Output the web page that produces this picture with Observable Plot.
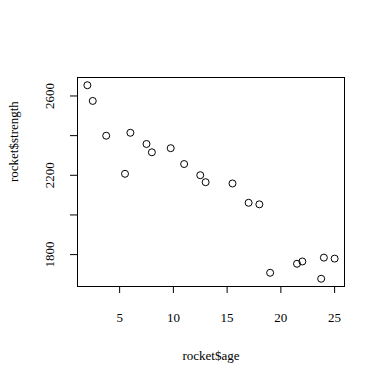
<!DOCTYPE html>
<html><head><meta charset="utf-8">
<script src="https://cdn.jsdelivr.net/npm/d3@7"></script>
<script src="https://cdn.jsdelivr.net/npm/@observablehq/plot@0.6"></script>
<style>body{margin:0;background:#fff} svg, svg text{font-family:"Liberation Serif", "DejaVu Serif", serif !important;}</style>
</head><body><div id="chart"></div>
<script>
const age = [15.50, 23.75, 8.00, 17.00, 5.50, 19.00, 24.00, 2.50, 7.50, 11.00, 13.00, 3.75, 25.00, 9.75, 22.00, 18.00, 6.00, 12.50, 2.00, 21.50];
const strength = [2158.70, 1678.15, 2316.00, 2061.30, 2207.50, 1708.30, 1784.70, 2575.00, 2357.90, 2256.70, 2165.20, 2399.55, 1779.80, 2336.75, 1765.30, 2053.50, 2414.40, 2200.50, 2654.20, 1753.70];
const xTicks = [5, 10, 15, 20, 25];
const yTicks = [1800, 2000, 2200, 2400, 2600];
const yLabeled = [1800, 2200, 2600];
const xLabel = "rocket$age";
const yLabel = "rocket$strength";

const data = age.map((a, i) => ({age: a, strength: strength[i]}));
const chart = Plot.plot({
  width: 384, height: 383,
  marginLeft: 77, marginRight: 40, marginTop: 77, marginBottom: 97,
  style: {fontFamily: "'Liberation Serif', serif", fontSize: "13px", color: "#000", background: "#fff"},
  x: {domain: [1.08, 25.92]},
  y: {domain: [1639.1, 2693.2]},
  marks: [
    Plot.frame({stroke: "#000", strokeWidth: 1}),
    Plot.axisX({ticks: xTicks, tickSize: 7, tickPadding: 19, label: null, fontSize: 13}),
    Plot.axisY({ticks: yTicks, tickSize: 7, tickPadding: 17, tickRotate: -90, label: null, fontSize: 13,
      tickFormat: d => yLabeled.includes(d) ? String(d) : ""}),
    Plot.text([xLabel], {frameAnchor: "bottom", dy: 73, text: d => d, fontSize: 13}),
    Plot.text([yLabel], {frameAnchor: "left", dx: -64, rotate: -90, text: d => d, fontSize: 13}),
    Plot.dot(data, {x: "age", y: "strength", r: 3.5, stroke: "#000", strokeWidth: 1, fill: "none"})
  ]
});
document.getElementById("chart").appendChild(chart);
</script></body></html>
